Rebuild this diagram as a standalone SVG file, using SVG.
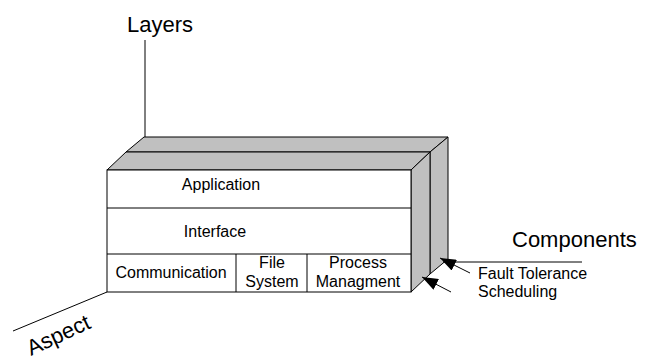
<svg xmlns="http://www.w3.org/2000/svg" width="651" height="358" viewBox="0 0 651 358">
  <defs>
    <style>
      .face { fill: #ffffff; stroke: #000000; stroke-width: 1; }
      .shade { fill: #c0c0c0; stroke: #000000; stroke-width: 1; stroke-linejoin: miter; }
      .line { fill: none; stroke: #000000; stroke-width: 1; }
      text { font-family: "Liberation Sans", Arial, sans-serif; fill: #000000; }
      .cell { font-size: 16px; text-anchor: middle; }
      .axis { font-size: 22px; }
      .note { font-size: 16px; }
    </style>
    <marker id="head" viewBox="0 0 16 12" refX="16" refY="6" markerWidth="16" markerHeight="12" markerUnits="userSpaceOnUse" orient="auto">
      <path d="M0,0 L16,6 L0,12 Z" fill="#000000"/>
    </marker>
  </defs>
  <rect width="651" height="358" fill="#ffffff"/>

  <!-- rear slab (components behind) -->
  <g id="rear-slab">
    <polygon class="shade" points="126,152 144,137 448,137 430,152"/>
    <polygon class="shade" points="430,152 448,137 448,259 430,274"/>
  </g>

  <!-- front slab -->
  <g id="front-slab">
    <polygon class="shade" points="107,170 126,152 430,152 411,170"/>
    <polygon class="shade" points="411,170 430,152 430,274 411,292"/>
    <rect class="face" x="107" y="170" width="304" height="122"/>
  </g>

  <g id="application">
    <line class="line" x1="107" y1="208" x2="411" y2="208"/>
    <text class="cell" x="221" y="190">Application</text>
  </g>

  <g id="interface">
    <line class="line" x1="107" y1="254" x2="411" y2="254"/>
    <text class="cell" x="215" y="237">Interface</text>
  </g>

  <g id="communication">
    <text class="cell" x="171" y="278">Communication</text>
  </g>

  <g id="file-system">
    <line class="line" x1="236" y1="254" x2="236" y2="292"/>
    <text class="cell" x="272" y="268">File</text>
    <text class="cell" x="272" y="287">System</text>
  </g>

  <g id="process-management">
    <line class="line" x1="307" y1="254" x2="307" y2="292"/>
    <text class="cell" x="358" y="268">Process</text>
    <text class="cell" x="358" y="287">Managment</text>
  </g>

  <!-- axes and pointers -->
  <g id="connectors">
    <line class="line" x1="145" y1="40" x2="145" y2="137"/>
    <line class="line" x1="107" y1="292" x2="13" y2="331"/>
    <line class="line" x1="443" y1="262" x2="582" y2="262"/>
    <line class="line" x1="470" y1="273" x2="440" y2="258" marker-end="url(#head)"/>
    <line class="line" x1="451" y1="292" x2="422" y2="277" marker-end="url(#head)"/>
  </g>

  <g id="labels">
    <text class="axis" x="160" y="32" text-anchor="middle" font-size="23">Layers</text>
    <text class="axis" x="512" y="247">Components</text>
    <text class="note" x="478" y="279">Fault Tolerance</text>
    <text class="note" x="478" y="297">Scheduling</text>
    <text class="axis" font-size="24" transform="translate(31,356) rotate(-25)">Aspect</text>
  </g>
</svg>
